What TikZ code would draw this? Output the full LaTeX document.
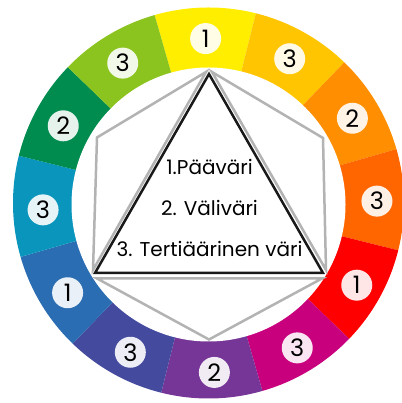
\documentclass[tikz,border=0pt]{standalone}
\usepackage{fontspec}
\setmainfont{Poppins}
\definecolor{c0}{HTML}{FFEE00}
\definecolor{c1}{HTML}{FFC500}
\definecolor{c2}{HTML}{FF8E00}
\definecolor{c3}{HTML}{FF6600}
\definecolor{c4}{HTML}{FF0000}
\definecolor{c5}{HTML}{C8007E}
\definecolor{c6}{HTML}{763697}
\definecolor{c7}{HTML}{444A9E}
\definecolor{c8}{HTML}{2B6DB2}
\definecolor{c9}{HTML}{0A95BC}
\definecolor{c10}{HTML}{008C4F}
\definecolor{c11}{HTML}{8CC41F}
\definecolor{hexgray}{HTML}{B3B3B3}
\tikzset{
  numc/.style={circle, fill=white, fill opacity=0.9, text opacity=1, minimum size=31pt, inner sep=0pt, font=\fontsize{24}{24}\selectfont},
  graytri/.style={draw=hexgray, line width=2.5pt},
  blacktri/.style={draw=black!90, line width=2.5pt},
  label/.style={anchor=base, font=\fontsize{20}{20}\selectfont}
}
\begin{document}
\begin{tikzpicture}[x=1pt,y=1pt]
\useasboundingbox (0,0) rectangle (401,403);
% ring segments
\foreach \i in {0,...,11} {
  \pgfmathsetmacro{\sa}{106-30*\i}
  \pgfmathsetmacro{\ea}{76-30*\i}
  \fill[c\i] (208.5,200) -- ++(\sa:195.5) arc[start angle=\sa, end angle=\ea, radius=195.5] -- cycle;
}
\fill[white] (208.5,198.5) circle (137);
% number circles
\foreach \num [count=\i from 0] in {1,3,2,3,1,3,2,3,1,3,2,3} {
  \pgfmathsetmacro{\ang}{91.5-30*\i}
  \node[numc] (n\i) at ([shift={(\ang:167)}]210,197.5) {\num};
}
% gray triangles
\coordinate (gl1) at (206,331);
\coordinate (gl2) at (97,265.5);
\coordinate (gl3) at (93,133);
\coordinate (gr1) at (212,331);
\coordinate (gr2) at (323,265);
\coordinate (gr3) at (326,133);
\coordinate (gb1) at (97,124.5);
\coordinate (gb2) at (209,63.5);
\coordinate (gb3) at (322,124.5);
\draw[graytri] (gl1) -- (gl2) -- (gl3) -- cycle;
\draw[graytri] (gr1) -- (gr2) -- (gr3) -- cycle;
\draw[graytri] (gb1) -- (gb2) -- (gb3) -- cycle;
% black triangle
\coordinate (b1) at (209,329);
\coordinate (b2) at (95,130);
\coordinate (b3) at (323,130);
\draw[blacktri] (b1) -- (b2) -- (b3) -- cycle;
% texts
\node[label] (t1) at (209.5,228) {1.Pääväri};
\node[label] (t2) at (209.5,187) {2. Väliväri};
\node[label] (t3) at (209.5,146) {3. Tertiäärinen väri};
\end{tikzpicture}
\end{document}
